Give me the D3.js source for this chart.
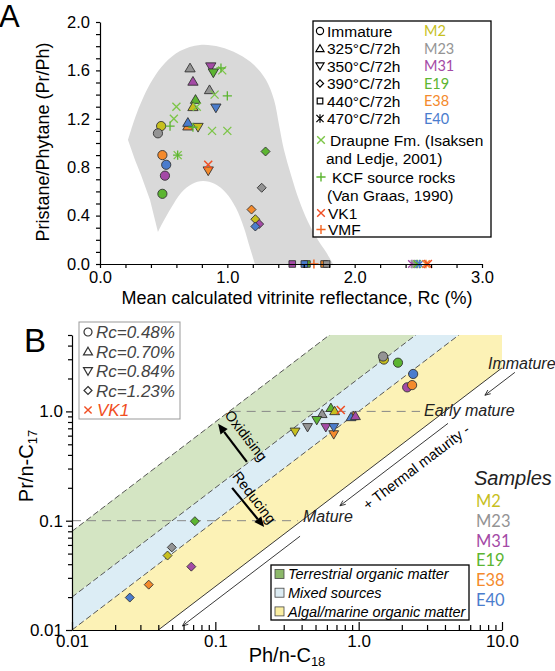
<!DOCTYPE html>
<html><head><meta charset="utf-8">
<script src="https://cdn.jsdelivr.net/npm/d3@7/dist/d3.min.js"></script>
<style>html,body{margin:0;padding:0;background:#fff}svg{display:block}</style>
</head><body>
<svg id="chart" width="555" height="671"></svg>
<script>
// ================= DATA =================
const samples = ["M2","M23","M31","E19","E38","E40"];
const sampleColors = ["#c7bf1e","#949494","#a44aa6","#5cb531","#f48a2c","#4a7ccd"];

// Panel A : [sample, Rc (%), Pr/Ph]  (listed in drawing order)
const aImmature = [["M2",0.48,1.14],["M23",0.455,1.08],["E38",0.49,0.90],["E40",0.52,0.82],["M31",0.51,0.73],["E19",0.49,0.58]];
const a325 = [["M23",0.707,1.62],["M31",0.73,1.51],["M23",0.86,1.44],["E19",0.75,1.36],["M2",0.73,1.30],["E38",0.69,1.14],["E40",0.69,1.17]];
const a350 = [["M31",0.87,1.63],["E19",0.89,1.58],["E40",0.91,1.29],["M2",0.77,1.13],["E38",0.85,0.77]];
const a390 = [["E19",1.30,0.93],["M23",1.27,0.63],["E38",1.19,0.45],["M2",1.22,0.37],["M31",1.25,0.33],["E40",1.22,0.31]];
const a440 = [["M31",1.51,0],["E19",1.625,0],["E40",1.605,0],["E38",1.76,0],["M23",1.78,0]];
const a470 = [["M31",2.45,0],["M23",2.47,0],["E19",2.49,0],["E40",2.51,0],["E38",2.56,0]];
const aDraupne = [[0.96,1.60],[0.90,1.40],[0.76,1.30],[0.60,1.30],[0.58,1.20],[0.88,1.10],[1.0,1.10],[0.61,0.90]];
const aKCF = [[0.95,1.62],[1.0,1.39],[0.55,1.14],[0.73,1.13],[0.61,0.90]];
const aVK1 = [[0.85,0.82],[2.575,0]];
const aVMF = [[1.68,0]];
// grey envelope (Rc, Pr/Ph)
const envOuter = [[0.22,1.025],[0.275,1.207],[0.338,1.372],[0.416,1.529],[0.51,1.661],[0.628,1.76],[0.785,1.81],[0.942,1.793],[1.084,1.736],[1.21,1.645],[1.304,1.52],[1.367,1.355],[1.406,1.149],[1.445,0.942],[1.5,0.736],[1.563,0.529],[1.634,0.347],[1.712,0.198],[1.775,0.099],[1.83,0]];
const envInner = [[1.217,0],[1.178,0.132],[1.131,0.298],[1.068,0.463],[0.99,0.587],[0.903,0.661],[0.809,0.686],[0.723,0.661],[0.636,0.587],[0.558,0.463],[0.495,0.347],[0.455,0.264]];
const envLeg = [[0.455,0.264],[0.393,0.529],[0.322,0.736],[0.275,0.86],[0.22,1.025]];

const aYTicks = d3.range(0,21).map(i=>i/10);
const aYLabels = [0,0.4,0.8,1.2,1.6,2.0];
const aXTicks = d3.range(0,16).map(i=>i/5);
const aXLabels = [0,1,2,3];
const aLegendTypes = ["circle","up","down","diamond","square","star"];
const aLegendLabels = ["Immature","325°C/72h","350°C/72h","390°C/72h","440°C/72h","470°C/72h"];

// Panel B : [sample, Ph/n-C18, Pr/n-C17]
const bRc048 = [["M2",1.50,2.98],["M23",1.48,3.18],["E19",1.88,2.79],["E40",2.40,2.20],["M31",2.18,1.66],["E38",2.36,1.74]];
const bRc070 = [["M23",0.556,0.95],["E19",0.64,1.08],["M2",0.68,1.01],["E38",0.92,0.91],["E40",0.885,0.89],["M31",0.95,0.91]];
const bRc084 = [["M2",0.36,0.65],["M23",0.44,0.715],["E19",0.51,0.83],["M31",0.59,0.715],["E38",0.67,0.615],["E40",0.67,0.715]];
const bRc123 = [["E19",0.072,0.099],["M23",0.0497,0.057],["M2",0.0464,0.048],["M31",0.068,0.038],["E38",0.0343,0.026],["E40",0.0253,0.0198]];
const bVK1 = [[0.75,1.03]];
// band boundaries  Pr/n-C17 = k * Ph/n-C18
const bandK = [8, 2, 1, 0.25];
const bandNames = ["Terrestrial organic matter","Mixed sources","Algal/marine organic matter"];
const bandColors = ["#d4e5c3","#dcedf5","#fcf2b6"];
const bandSwatch = ["#8cb86a","#dcebf2","#fbefa2"];
const bXTicks = [].concat(...[0.01,0.1,1].map(d=>d3.range(1,10).map(i=>+(i*d).toPrecision(3)))).concat([10]);
const bYTicks = [].concat(...[0.01,0.1].map(d=>d3.range(1,10).map(i=>+(i*d).toPrecision(3)))).concat([1,2,3,4,5]);
const bXLabels = {0.01:"0.01",0.1:"0.1",1:"1.0",10:"10.0"};
const bYLabels = {0.01:"0.01",0.1:"0.1",1:"1.0"};
const bLegendTypes = ["circle","up","down","diamond"];
const bLegendLabels = ["Rc=0.48%","Rc=0.70%","Rc=0.84%","Rc=1.23%"];
const thermalK = 0.185;
const thermalSegs = [[12.3,7.6],[4.2,0.74],[0.39,0.059]];

// ================= DRAWING =================
const svg = d3.select("#chart");
const F = "'Liberation Sans', Arial, Helvetica, sans-serif";
const FS = "Lato, 'Open Sans', sans-serif";
const colorOf = s => sampleColors[samples.indexOf(s)];
const VKC = "#f04e23";
const GREEN_X = "#7cc547";

function shape(type, s){
  switch(type){
    case "circle": return `M${-s},0A${s},${s} 0 1,0 ${s},0A${s},${s} 0 1,0 ${-s},0Z`;
    case "up": return `M0,${-s*1.05}L${s*1.12},${s*0.85}L${-s*1.12},${s*0.85}Z`;
    case "down": return `M0,${s*1.05}L${s*1.12},${-s*0.85}L${-s*1.12},${-s*0.85}Z`;
    case "diamond": return `M0,${-s}L${s},0L0,${s}L${-s},0Z`;
    case "square": return `M${-s},${-s}H${s}V${s}H${-s}Z`;
    case "star": return `M${-s},${-s}L${s},${s}M${s},${-s}L${-s},${s}M0,${-s*1.15}V${s*1.15}`;
    case "x": return `M${-s},${-s}L${s},${s}M${s},${-s}L${-s},${s}`;
    case "plus": return `M${-s},0H${s}M0,${-s}V${s}`;
  }
}

// ---------- Panel A ----------
const xA = d3.scaleLinear().domain([0,3]).range([100,482]);
const yA = d3.scaleLinear().domain([0,2]).range([264,22]);
const gA = svg.append("g");
const smooth = d3.line().x(d=>xA(d[0])).y(d=>yA(d[1])).curve(d3.curveCatmullRom);
const straight = d3.line().x(d=>xA(d[0])).y(d=>yA(d[1]));
const envPath = smooth(envOuter) + straight(envInner.slice(0,1)).replace("M","L") + smooth(envInner).replace(/^M/,"L") + straight(envLeg).replace(/^M/,"L") + "Z";
gA.append("path").attr("d", envPath).attr("fill","#d9d9d9");

function drawA(arr, type, s){
  gA.selectAll(null).data(arr).enter().append("path")
    .attr("transform", d=>`translate(${xA(d[1])},${yA(d[2])})`)
    .attr("d", shape(type,s))
    .attr("fill", type==="star" ? "none" : d=>colorOf(d[0]))
    .attr("stroke", type==="star" ? d=>colorOf(d[0]) : "#333")
    .attr("stroke-width", type==="star" ? 1.4 : 0.9);
}
drawA(aImmature,"circle",4.6);
drawA(a325,"up",4.6);
drawA(a350,"down",4.6);
drawA(a390,"diamond",4.5);
drawA(a440,"square",3.3);
drawA(a470,"star",3.8);
function drawCross(g, arr, xs, ys, type, s, col, w){
  g.selectAll(null).data(arr).enter().append("path")
    .attr("transform", d=>`translate(${xs(d[0])},${ys(d[1])})`)
    .attr("d", shape(type,s)).attr("fill","none").attr("stroke",col).attr("stroke-width",w);
}
drawCross(gA, aDraupne, xA, yA, "x", 4, GREEN_X, 1.3);
drawCross(gA, aKCF, xA, yA, "plus", 4.6, "#5cb531", 1.3);
drawCross(gA, aVK1, xA, yA, "x", 4, VKC, 1.5);
drawCross(gA, aVMF, xA, yA, "plus", 4.6, "#f26522", 1.5);

// axes A
const axA_y = gA.append("g").attr("transform","translate(100,0)")
  .call(d3.axisLeft(yA).tickValues(aYTicks).tickSize(4).tickSizeOuter(0).tickPadding(6)
  .tickFormat(d=> aYLabels.some(v=>Math.abs(v-d)<1e-6) ? d.toFixed(1) : ""));
const axA_x = gA.append("g").attr("transform","translate(0,264)")
  .call(d3.axisBottom(xA).tickValues(aXTicks).tickSize(4).tickSizeOuter(0).tickPadding(3)
  .tickFormat(d=> aXLabels.some(v=>Math.abs(v-d)<1e-6) ? d.toFixed(1) : ""));
[axA_y, axA_x].forEach(a=>{
  a.selectAll("path,line").attr("stroke","#000").attr("stroke-width",1.2);
  a.selectAll("text").attr("font-family",F).attr("font-size","16.5px").attr("fill","#000");
});
gA.append("text").attr("x",297).attr("y",304).attr("text-anchor","middle")
  .attr("font-family",F).attr("font-size","18px").text("Mean calculated vitrinite reflectance, Rc (%)");
gA.append("text").attr("transform","translate(49,142) rotate(-90)").attr("text-anchor","middle")
  .attr("font-family",F).attr("font-size","18px").text("Pristane/Phytane (Pr/Ph)");
svg.append("text").attr("x",-1).attr("y",27).attr("font-family",F).attr("font-size","31px").text("A");

// legend A
const lA = svg.append("g");
lA.append("rect").attr("x",313).attr("y",21).attr("width",178).attr("height",216)
  .attr("fill","#fff").attr("stroke","#000").attr("stroke-width",1.3);
aLegendTypes.forEach((t,i)=>{
  const y = 31 + i*17.5;
  lA.append("path").attr("transform",`translate(320,${y})`)
    .attr("d", shape(t, t==="square"?2.8:3.6))
    .attr("fill","none").attr("stroke","#000").attr("stroke-width",1.2);
  lA.append("text").attr("x",327).attr("y",y).attr("dy","0.36em").attr("font-family",F)
    .attr("font-size","15.5px").text(aLegendLabels[i]);
  lA.append("text").attr("x",424).attr("y",y).attr("dy","0.36em").attr("font-family",FS)
    .attr("font-size","14.5px").attr("fill",sampleColors[i]).text(samples[i]);
});
const legRows = [
  {y:140, sym:"x", col:GREEN_X, tx:330, t:"Draupne Fm. (Isaksen"},
  {y:158.5, tx:326, t:"and Ledje, 2001)"},
  {y:177, sym:"plus", col:"#5cb531", tx:332, t:"KCF source rocks"},
  {y:195.5, tx:327, t:"(Van Graas, 1990)"},
  {y:213, sym:"x", col:VKC, tx:328, t:"VK1"},
  {y:229.5, sym:"plus", col:"#f26522", tx:328, t:"VMF"}
];
legRows.forEach(r=>{
  if(r.sym) lA.append("path").attr("transform",`translate(321,${r.y})`).attr("d",shape(r.sym,r.sym==="x"?3.8:4.6))
    .attr("fill","none").attr("stroke",r.col).attr("stroke-width",1.4);
  lA.append("text").attr("x",r.tx).attr("y",r.y).attr("dy","0.36em").attr("font-family",F)
    .attr("font-size","15.5px").text(r.t);
});

// ---------- Panel B ----------
const xB = d3.scaleLog().domain([0.01,10]).range([72,502]);
const yB = d3.scaleLog().domain([0.01,5]).range([630,335]);
const gB = svg.append("g");
svg.append("defs").append("clipPath").attr("id","bclip").append("rect")
  .attr("x",xB(0.01)).attr("y",yB(5)).attr("width",xB(10)-xB(0.01)).attr("height",yB(0.01)-yB(5));
const bands = gB.append("g").attr("clip-path","url(#bclip)");
const lineB = d3.line().x(d=>xB(d[0])).y(d=>yB(d[1]));
for(let i=0;i<3;i++){
  const k1=bandK[i], k2=bandK[i+1];
  bands.append("path").attr("d", lineB([[1e-3,k1*1e-3],[1e3,k1*1e3],[1e3,k2*1e3],[1e-3,k2*1e-3]])+"Z")
    .attr("fill",bandColors[i]);
}
bandK.forEach((k,i)=>{
  bands.append("path").attr("d", lineB([[1e-3,k*1e-3],[1e3,k*1e3]]))
    .attr("fill","none").attr("stroke", i<3 ? "#444" : "#222").attr("stroke-width",0.9)
    .attr("stroke-dasharray", i<3 ? "6,3" : null);
});
// horizontal maturity lines
gB.append("path").attr("d", lineB([[0.13,1],[2.68,1]])).attr("stroke","#888").attr("stroke-width",1)
  .attr("stroke-dasharray","9,6").attr("fill","none");
gB.append("path").attr("d", lineB([[0.01,0.1],[0.376,0.1]])).attr("stroke","#888").attr("stroke-width",1)
  .attr("stroke-dasharray","9,6").attr("fill","none");

// thermal maturity arrow
function vHead(g, p0, p1, L, ang, col, w){
  const a = Math.atan2(p1[1]-p0[1], p1[0]-p0[0]);
  const pts = [a+Math.PI-ang, a+Math.PI+ang].map(t=>[p1[0]+L*Math.cos(t), p1[1]+L*Math.sin(t)]);
  g.append("path").attr("d",`M${pts[0]}L${p1}L${pts[1]}`).attr("fill","none").attr("stroke",col).attr("stroke-width",w);
}
thermalSegs.forEach(s=>{
  const p0=[xB(s[0]),yB(thermalK*s[0])], p1=[xB(s[1]),yB(thermalK*s[1])];
  gB.append("path").attr("d",`M${p0}L${p1}`).attr("stroke","#222").attr("stroke-width",0.9);
  vHead(gB,p0,p1,6,0.4,"#222",0.9);
});
const bandAngle = Math.atan2(yB(1)-yB(10),xB(10)-xB(1))*180/Math.PI;
gB.append("text").attr("transform",`translate(${xB(2.52)},${yB(0.31)}) rotate(${-bandAngle})`)
  .attr("text-anchor","middle").attr("dy","0.35em").attr("font-family",F).attr("font-size","14.5px")
  .text("+ Thermal maturity -");

// oxidising / reducing arrows
function bigArrow(p0,p1){
  const a = Math.atan2(p1[1]-p0[1], p1[0]-p0[0]);
  const L=10, W=4.5;
  const base=[p1[0]-L*Math.cos(a), p1[1]-L*Math.sin(a)];
  gB.append("path").attr("d",`M${p0}L${base}`).attr("stroke","#000").attr("stroke-width",2.2);
  const l=[base[0]+W*Math.sin(a), base[1]-W*Math.cos(a)], r=[base[0]-W*Math.sin(a), base[1]+W*Math.cos(a)];
  gB.append("path").attr("d",`M${p1}L${l}L${r}Z`).attr("fill","#000");
}
bigArrow([xB(0.166),yB(0.345)],[xB(0.1045),yB(0.769)]);
bigArrow([xB(0.131),yB(0.1995)],[xB(0.219),yB(0.0877)]);
gB.append("text").attr("transform",`translate(${xB(0.164)},${yB(0.60)}) rotate(${90-bandAngle})`)
  .attr("text-anchor","middle").attr("dy","0.35em").attr("font-family",F).attr("font-size","14.5px").text("Oxidising");
gB.append("text").attr("transform",`translate(${xB(0.187)},${yB(0.163)}) rotate(${90-bandAngle})`)
  .attr("text-anchor","middle").attr("dy","0.35em").attr("font-family",F).attr("font-size","14.5px").text("Reducing");

// maturity labels
[["Immature",488,363],["Early mature",424,410],["Mature",303,516]].forEach(t=>{
  gB.append("text").attr("x",t[1]).attr("y",t[2]).attr("dy","0.35em").attr("font-family",F)
    .attr("font-style","italic").attr("font-size","16px").attr("fill","#222").text(t[0]);
});

// markers B
function drawB(arr, type, s){
  gB.selectAll(null).data(arr).enter().append("path")
    .attr("transform", d=>`translate(${xB(d[1])},${yB(d[2])})`)
    .attr("d", shape(type,s)).attr("fill", d=>colorOf(d[0])).attr("stroke","#333").attr("stroke-width",0.9);
}
drawB(bRc048,"circle",4.6);
drawB(bRc070,"up",4.4);
drawB(bRc084,"down",4.4);
drawB(bRc123,"diamond",4.5);
drawCross(gB, bVK1, xB, yB, "x", 4, VKC, 1.5);

// axes B
const axB_y = gB.append("g").attr("transform",`translate(${xB(0.01)},0)`)
  .call(d3.axisLeft(yB).tickValues(bYTicks).tickSize(4).tickSizeOuter(0).tickPadding(5)
  .tickFormat(d=> bYLabels[d] || ""));
const axB_x = gB.append("g").attr("transform",`translate(0,${yB(0.01)})`)
  .call(d3.axisBottom(xB).tickValues(bXTicks).tickSizeInner(-5).tickSizeOuter(0).tickPadding(5)
  .tickFormat(d=> bXLabels[d] || ""));
axB_x.selectAll(".tick line").filter(d=>bXLabels[d]).attr("y2",-8);
axB_y.selectAll(".tick line").filter(d=>bYLabels[d]).attr("x2",-6);
[axB_y, axB_x].forEach(a=>{
  a.selectAll("path,line").attr("stroke","#000").attr("stroke-width",1.2);
  a.selectAll("text").attr("font-family",F).attr("font-size","17px").attr("fill","#000");
});
const tx = gB.append("text").attr("x",287).attr("y",662).attr("text-anchor","middle")
  .attr("font-family",F).attr("font-size","20px").text("Ph/n-C");
tx.append("tspan").attr("font-size","13px").attr("dy",4).text("18");
const ty = gB.append("text").attr("transform","translate(33,466) rotate(-90)").attr("text-anchor","middle")
  .attr("font-family",F).attr("font-size","20px").text("Pr/n-C");
ty.append("tspan").attr("font-size","13px").attr("dy",4).text("17");
svg.append("text").attr("x",24).attr("y",352).attr("font-family",F).attr("font-size","33px").text("B");

// legend B (Rc)
const lB = svg.append("g");
lB.append("rect").attr("x",79).attr("y",322).attr("width",101).attr("height",97)
  .attr("fill","#fff").attr("stroke","#999").attr("stroke-width",1);
bLegendTypes.forEach((t,i)=>{
  const y = 332 + i*19.5;
  lB.append("path").attr("transform",`translate(88,${y})`).attr("d",shape(t,4))
    .attr("fill","none").attr("stroke","#333").attr("stroke-width",1.2);
  lB.append("text").attr("x",96).attr("y",y).attr("dy","0.36em").attr("font-family",F)
    .attr("font-style","italic").attr("font-size","17px").attr("fill","#444").text(bLegendLabels[i]);
});
lB.append("path").attr("transform","translate(88,410)").attr("d",shape("x",3.6)).attr("fill","none")
  .attr("stroke",VKC).attr("stroke-width",1.4);
lB.append("text").attr("x",97).attr("y",410).attr("dy","0.36em").attr("font-family",F)
  .attr("font-style","italic").attr("font-size","17px").attr("fill",VKC).text("VK1");

// legend B samples
svg.append("text").attr("x",474).attr("y",478).attr("dy","0.35em").attr("font-family",F)
  .attr("font-style","italic").attr("font-size","20px").attr("fill","#222").text("Samples");
samples.forEach((s,i)=>{
  svg.append("text").attr("x",476).attr("y",501+i*19.8).attr("dy","0.36em")
    .attr("font-family",FS).attr("font-size","16.5px").attr("fill",sampleColors[i]).text(s);
});

// legend B bands
const lC = svg.append("g");
lC.append("rect").attr("x",271).attr("y",565).attr("width",198).attr("height",55)
  .attr("fill","#fff").attr("stroke","#000").attr("stroke-width",1.3);
bandNames.forEach((n,i)=>{
  const y = 574 + i*18.7;
  lC.append("rect").attr("x",275).attr("y",y-4.5).attr("width",9).attr("height",9)
    .attr("fill",bandSwatch[i]).attr("stroke","#444").attr("stroke-width",0.8);
  lC.append("text").attr("x",288).attr("y",y).attr("dy","0.36em").attr("font-family",F)
    .attr("font-style","italic").attr("font-size","14.5px").text(n);
});
</script>
</body></html>
